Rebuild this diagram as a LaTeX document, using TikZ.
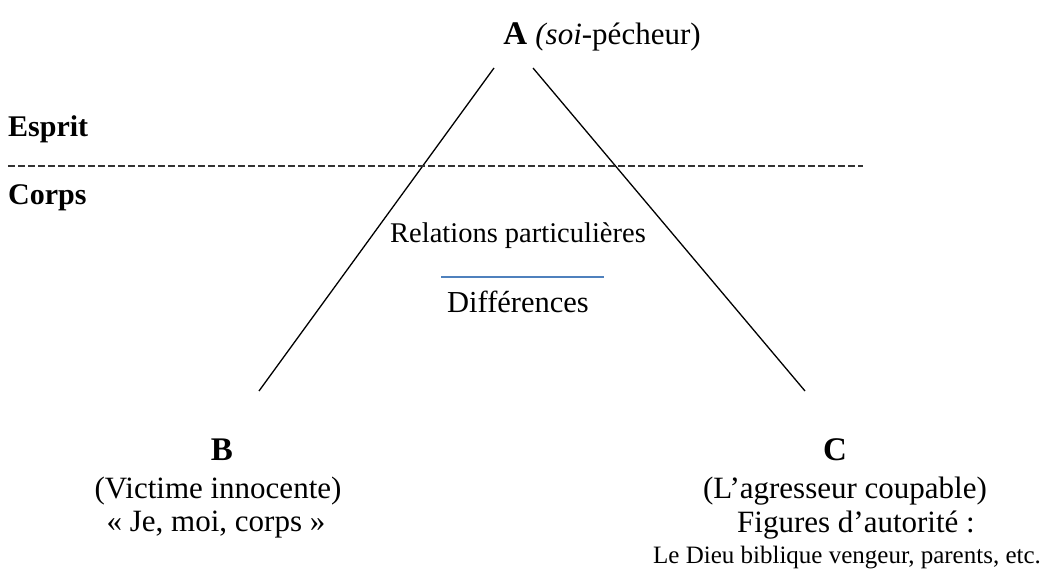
\documentclass[tikz,border=0pt]{standalone}
\usepackage{fontspec}
\setmainfont{Liberation Serif}
\usepackage{xcolor}
\definecolor{rulesep}{HTML}{4F81BD}

\newcommand{\bigletter}{\fontsize{33}{38}\selectfont\bfseries}
\newcommand{\midtext}{\fontsize{31}{36}\selectfont}
\newcommand{\smalltext}{\fontsize{25}{30}\selectfont}

\begin{document}
\begin{tikzpicture}[x=1pt,y=-1pt,inner sep=0pt,every node/.style={anchor=base}]
  \useasboundingbox (0,0) rectangle (1047,569);
  % sommet et branches
  \coordinate (topl) at (494,68);
  \coordinate (topr) at (533,68);
  \coordinate (endb) at (259,391);
  \coordinate (endc) at (805,391);
  \draw[line width=1.3pt] (topl) -- (endb) (topr) -- (endc);
  \node (A) at (602,45) {\bigletter A \midtext\mdseries{\itshape (soi}-pécheur)};
  % esprit / corps
  \node[anchor=base west] (esprit) at (8,137) {\fontsize{30}{35}\selectfont\bfseries Esprit};
  \node[anchor=base west] (corps) at (8,205) {\fontsize{30}{35}\selectfont\bfseries Corps};
  \coordinate (sepl) at (8,166);
  \coordinate (sepr) at (863,166);
  \draw[line width=2.5pt,black!80,dash pattern=on 7pt off 3pt] (sepl) -- (sepr);
  % milieu
  \node (rel) at (518,243) {\fontsize{28.5}{33}\selectfont Relations particulières};
  \coordinate (fracl) at (441,277);
  \coordinate (fracr) at (604,277);
  \draw[line width=1.5pt,rulesep] (fracl) -- (fracr);
  \node (diff) at (518,313) {\fontsize{30.5}{35}\selectfont Différences};
  % B
  \node (B) at (222,460) {\bigletter B};
  \node (Bvict) at (218,498) {\midtext (Victime innocente)};
  \node (Bmoi) at (216,531) {\midtext « Je, moi, corps »};
  % C
  \node (C) at (835,460) {\bigletter C};
  \node (Cagr) at (845,498) {\midtext (L’agresseur coupable)};
  \node (Cfig) at (856,532) {\midtext Figures d’autorité :};
  \node (Cdieu) at (847,563) {\smalltext Le Dieu biblique vengeur, parents, etc.};
\end{tikzpicture}
\end{document}
